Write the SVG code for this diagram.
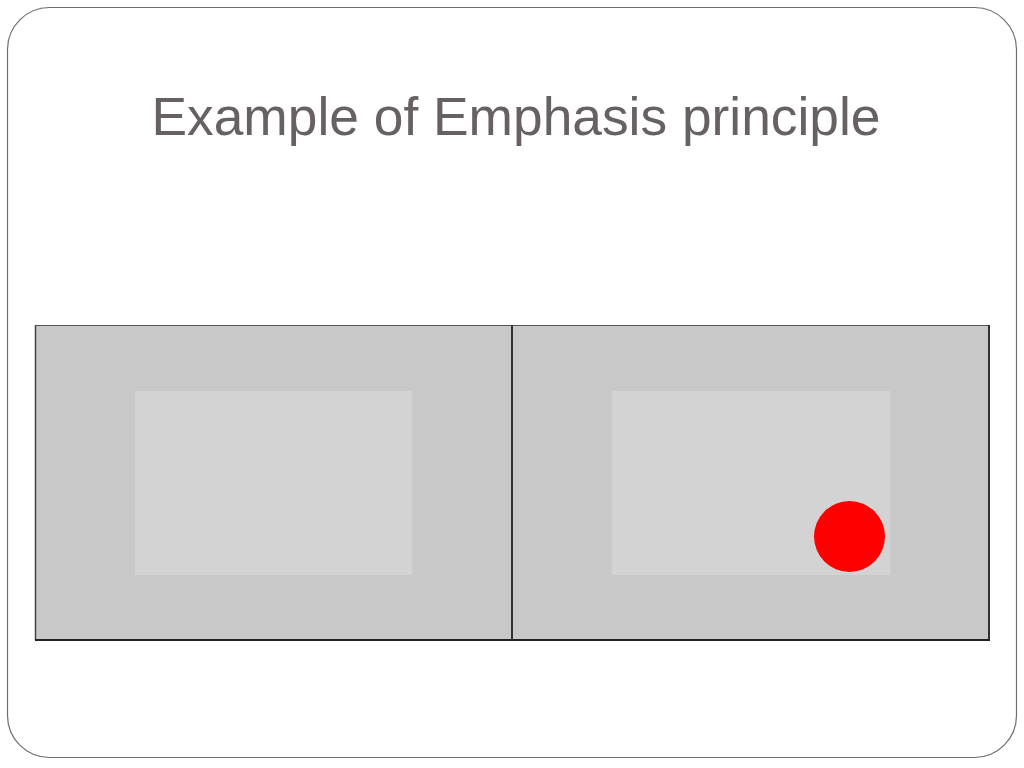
<svg xmlns="http://www.w3.org/2000/svg" width="1024" height="768" viewBox="0 0 1024 768">
<style>
.frame{fill:#ffffff;stroke:#6e6e6e;stroke-width:1.2}
.title{font-family:"Liberation Sans",Arial,sans-serif;font-size:53px;fill:#676161}
.bg{fill:#c8c8c8}
.inner{fill:#d3d3d3}
</style>
<rect width="1024" height="768" fill="#ffffff"/>
<g id="frame"><rect class="frame" x="7.5" y="7.5" width="1009" height="750" rx="42" ry="42"/></g>
<g id="title"><text class="title" x="516" y="135" text-anchor="middle" textLength="729" lengthAdjust="spacingAndGlyphs">Example of Emphasis principle</text></g>
<g id="picture">
<rect class="bg" x="35" y="325" width="955" height="315"/>
<line x1="35" y1="325.5" x2="990" y2="325.5" stroke="#555" stroke-width="1"/>
<line x1="35.5" y1="325" x2="35.5" y2="640" stroke="#444" stroke-width="1.5"/>
<line x1="989" y1="325" x2="989" y2="641" stroke="#333" stroke-width="2"/>
<line x1="35" y1="640" x2="990" y2="640" stroke="#222" stroke-width="2"/>
<line x1="512" y1="325" x2="512" y2="640" stroke="#333" stroke-width="2"/>
<g id="left-panel"><rect class="inner" x="135" y="391" width="277" height="184"/></g>
<g id="right-panel"><rect class="inner" x="612" y="391" width="278" height="184"/>
<circle cx="849.5" cy="536.5" r="35.5" fill="#ff0000"/></g>
</g>
</svg>
